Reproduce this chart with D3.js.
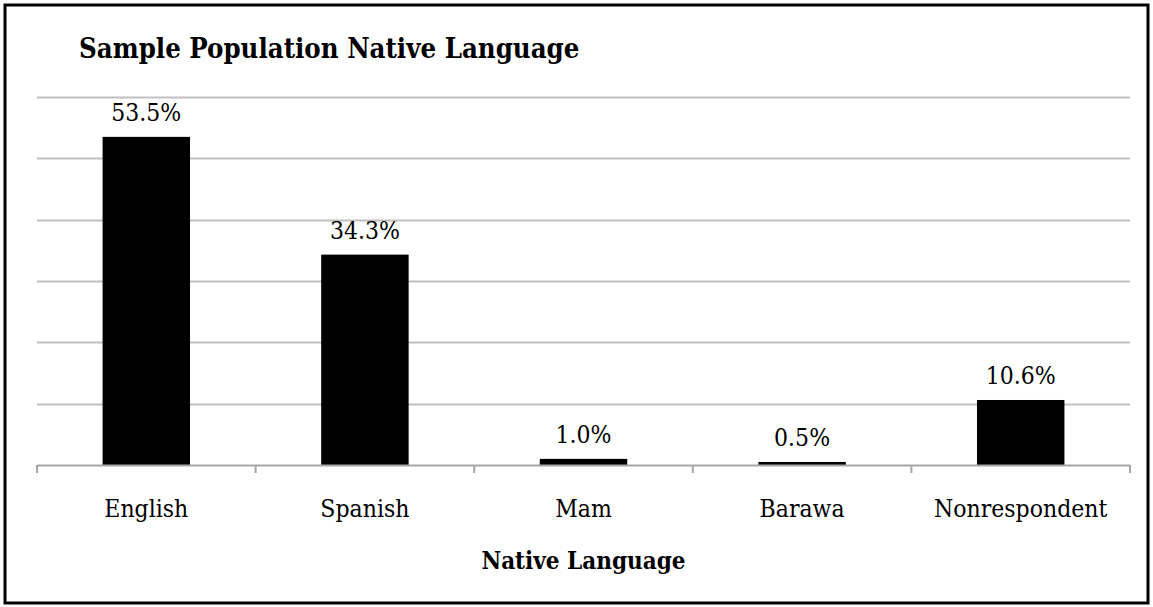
<!DOCTYPE html>
<html><head><meta charset="utf-8">
<script src="https://cdn.jsdelivr.net/npm/d3@7"></script>
<style>body{margin:0;background:#fff}svg{display:block}</style>
</head><body>
<script>
const categories = ["English","Spanish","Mam","Barawa","Nonrespondent"];
const values = [53.5,34.3,1.0,0.5,10.6];
const valueLabels = ["53.5%","34.3%","1.0%","0.5%","10.6%"];
const yTicks = [0,10,20,30,40,50,60];
const title = "Sample Population Native Language";
const xTitle = "Native Language";

const W=1153,H=607;
const svg=d3.select("body").append("svg").attr("width",W).attr("height",H);
svg.append("rect").attr("width",W).attr("height",H).attr("fill","#fff");
svg.append("rect").attr("x",5).attr("y",5).attr("width",1143).attr("height",598)
  .attr("fill","none").attr("stroke","#000").attr("stroke-width",3);

const pL=37,pR=1130,pT=97,pB=465;
const x=d3.scaleBand().domain(categories).range([pL,pR]).paddingInner(0.6).paddingOuter(0.3);
const y=d3.scaleLinear().domain([0,60]).range([pB,pT]);
const font="'DejaVu Serif Condensed', 'DejaVu Serif', serif";

svg.append("g").selectAll("line").data(yTicks.slice(1)).join("line")
  .attr("x1",pL).attr("x2",pR).attr("y1",d=>Math.round(y(d))+0.5).attr("y2",d=>Math.round(y(d))+0.5)
  .attr("stroke","#c0c0c0").attr("stroke-width",2);

svg.append("g").selectAll("rect").data(values).join("rect")
  .attr("x",(d,i)=>x(categories[i])).attr("width",x.bandwidth())
  .attr("y",d=>y(d)).attr("height",d=>pB-y(d)).attr("fill","#000");

// x axis
const xb=d3.scaleBand().domain(categories).range([pL,pR]);
const ax=svg.append("g").attr("transform",`translate(0,${pB})`);
ax.append("line").attr("x1",pL).attr("x2",pR).attr("y1",0.5).attr("y2",0.5).attr("stroke","#a6a6a6").attr("stroke-width",2);
const edges=categories.map(c=>xb(c)).concat([pR]);
ax.selectAll("line.t").data(edges).join("line").attr("class","t")
  .attr("x1",d=>d).attr("x2",d=>d).attr("y1",0).attr("y2",8).attr("stroke","#a6a6a6").attr("stroke-width",2);
ax.selectAll("text").data(categories).join("text")
  .attr("x",d=>xb(d)+xb.bandwidth()/2).attr("y",52).attr("text-anchor","middle")
  .attr("font-family",font).attr("font-size",24.5).attr("fill","#000").text(d=>d);

svg.append("g").selectAll("text").data(values).join("text")
  .attr("x",(d,i)=>x(categories[i])+x.bandwidth()/2).attr("y",d=>y(d)-16)
  .attr("text-anchor","middle").attr("font-family",font).attr("font-size",24.5).attr("fill","#000")
  .text((d,i)=>valueLabels[i]);

svg.append("text").attr("x",79).attr("y",58).attr("font-family",font).attr("font-weight","bold")
  .attr("font-size",27.3).attr("fill","#000").text(title);
svg.append("text").attr("x",(pL+pR)/2).attr("y",569).attr("text-anchor","middle")
  .attr("font-family",font).attr("font-weight","bold").attr("font-size",24).attr("fill","#000").text(xTitle);
</script>
</body></html>
